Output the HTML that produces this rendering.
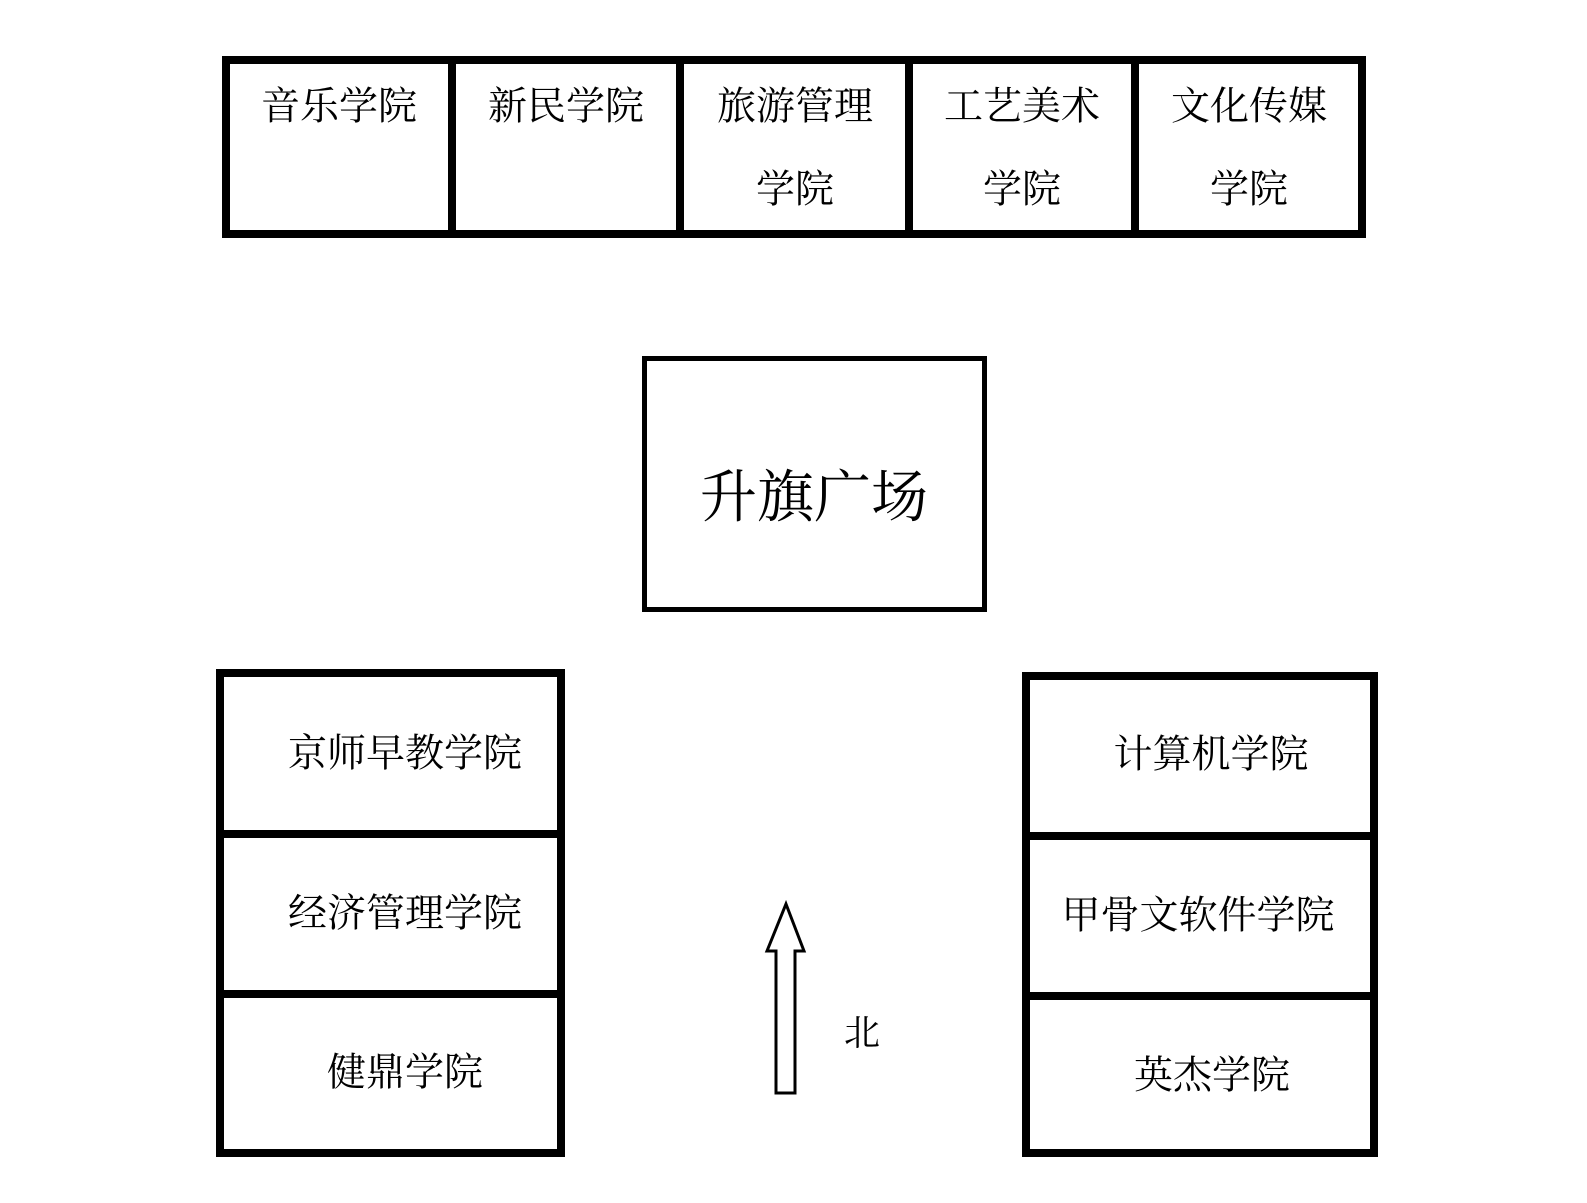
<!DOCTYPE html>
<html><head><meta charset="utf-8"><style>
html,body{margin:0;padding:0;background:#fff;}
svg{display:block;}
text{font-family:"Liberation Serif","Noto Serif CJK SC",serif;fill:#000;dominant-baseline:central;}
</style></head><body>
<svg width="1587" height="1203" viewBox="0 0 1587 1203" xmlns="http://www.w3.org/2000/svg">
<rect width="1587" height="1203" fill="#fff"/>
<g fill="none" stroke="#000" stroke-width="8">
<rect x="226" y="60" width="1136" height="174"/>
<line x1="452" y1="60" x2="452" y2="234"/>
<line x1="680" y1="60" x2="680" y2="234"/>
<line x1="909" y1="60" x2="909" y2="234"/>
<line x1="1135" y1="60" x2="1135" y2="234"/>
</g>
<g font-size="39" text-anchor="middle">
<text x="339" y="107">音乐学院</text>
<text x="566" y="107">新民学院</text>
<text x="795" y="107">旅游管理</text>
<text x="795" y="190">学院</text>
<text x="1022" y="107">工艺美术</text>
<text x="1022" y="190">学院</text>
<text x="1249" y="107">文化传媒</text>
<text x="1249" y="190">学院</text>
</g>
<rect x="644.5" y="358.5" width="340" height="251" fill="none" stroke="#000" stroke-width="5"/>
<text x="814" y="498" font-size="57" text-anchor="middle">升旗广场</text>
<g fill="none" stroke="#000" stroke-width="8">
<rect x="220" y="673" width="341" height="480"/>
<line x1="220" y1="834" x2="561" y2="834"/>
<line x1="220" y1="994" x2="561" y2="994"/>
</g>
<g font-size="39" text-anchor="middle">
<text x="405" y="754">京师早教学院</text>
<text x="405" y="914">经济管理学院</text>
<text x="405" y="1073">健鼎学院</text>
</g>
<g fill="none" stroke="#000" stroke-width="8">
<rect x="1026" y="676" width="348" height="477"/>
<line x1="1026" y1="836" x2="1374" y2="836"/>
<line x1="1026" y1="996" x2="1374" y2="996"/>
</g>
<g font-size="39" text-anchor="middle">
<text x="1211" y="755">计算机学院</text>
<text x="1198" y="916">甲骨文软件学院</text>
<text x="1212" y="1076">英杰学院</text>
</g>
<path d="M786,904 L804,951 L795,951 L795,1093 L776,1093 L776,951 L767,951 Z" fill="#fff" stroke="#000" stroke-width="3" stroke-linejoin="miter"/>
<text x="862" y="1033" font-size="36" text-anchor="middle">北</text>
</svg>
</body></html>
